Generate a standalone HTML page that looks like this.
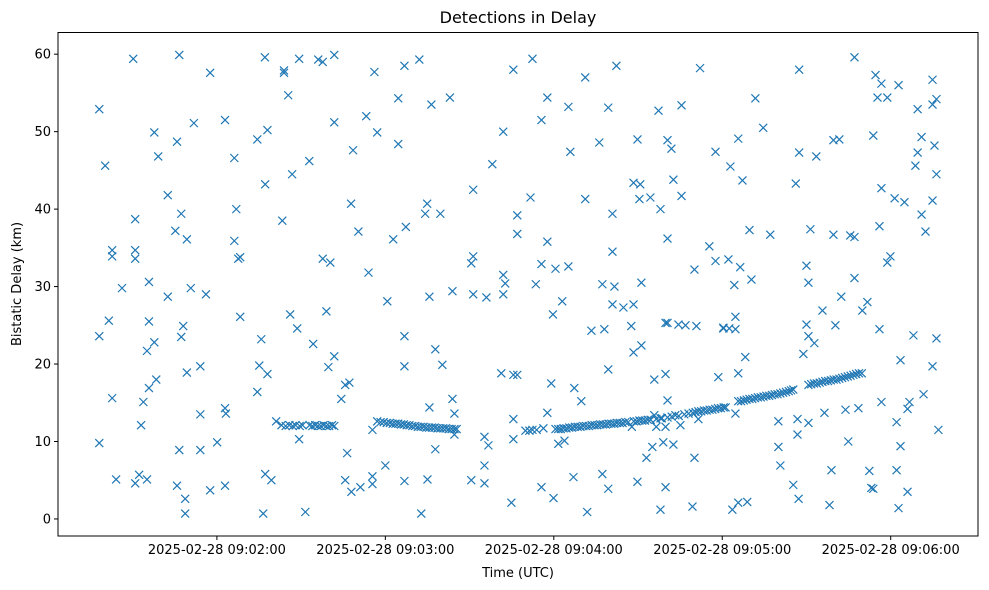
<!DOCTYPE html>
<html><head><meta charset="utf-8"><style>
html,body{margin:0;padding:0;background:#fff;}
svg{display:block;font-family:"DejaVu Sans","Liberation Sans",sans-serif;}
</style></head><body>
<svg id="chart" width="989" height="590" viewBox="0 0 989 590" xmlns="http://www.w3.org/2000/svg">
<rect x="0" y="0" width="989" height="590" fill="#fff"/>
<text x="518" y="23" text-anchor="middle" font-size="16" fill="#000">Detections in Delay</text>
<text x="518" y="577" text-anchor="middle" font-size="13" fill="#000">Time (UTC)</text>
<text x="0" y="0" transform="translate(21,284) rotate(-90)" text-anchor="middle" font-size="13" fill="#000">Bistatic Delay (km)</text>
<g id="marks"></g>
<g id="axes"></g>
</svg>
<script>
// seconds after 09:01:00 UTC
const xTickSeconds = [60, 120, 180, 240, 300];
const xTickLabels = ["2025-02-28 09:02:00","2025-02-28 09:03:00","2025-02-28 09:04:00","2025-02-28 09:05:00","2025-02-28 09:06:00"];
const yTicks = [0, 10, 20, 30, 40, 50, 60];
const scatterTimes = [30.2,46.6,57.6,18.1,51.8,62.9,37.7,45.8,39.1,20.2,42.5,47.3,30.9,45.2,49.3,22.7,22.7,30.9,30.9,26.2,35.8,42.5,50.7,56.1,21.5,18.1,35.8,48.0,47.3,37.7,35.1,49.3,54.1,38.4,35.8,22.7,33.8,54.1,62.9,63.2,33.0,18.1,46.6,54.1,60.1,24.1,32.3,30.9,35.1,45.8,48.7,57.6,62.9,48.7,
77.1,89.3,96.1,97.7,101.8,83.9,83.9,116.1,85.4,101.8,113.2,74.4,78.0,117.1,66.2,108.5,92.9,86.8,77.2,66.9,83.3,107.8,110.4,122.8,66.2,67.6,68.3,97.7,100.4,114.0,120.7,68.3,86.1,99.0,88.6,75.8,94.3,101.8,99.7,75.1,78.0,74.4,105.7,107.2,104.3,81.1,89.3,115.4,106.4,120.0,77.2,79.4,105.7,107.9,111.1,115.4,115.4,76.5,91.5,
126.8,132.1,124.6,136.4,143.0,124.6,165.6,172.4,177.7,175.6,162.0,158.1,151.3,171.7,134.9,134.2,139.6,127.3,167.0,167.0,177.7,151.3,150.6,175.6,180.6,162.0,162.7,162.0,173.6,135.7,143.9,151.3,156.0,179.7,126.8,137.8,126.8,140.3,161.3,165.6,167.0,179.1,135.7,143.9,144.6,165.6,177.7,144.6,137.8,155.3,156.7,155.3,155.3,150.6,126.8,135.0,132.8,164.9,165.6,181.6,175.6,179.9,
191.2,202.3,232.1,185.2,199.4,217.3,225.5,185.9,196.2,209.8,220.5,221.9,237.6,208.4,210.8,222.6,191.2,210.5,214.4,225.5,218.0,200.9,220.5,235.4,200.9,185.2,230.1,237.6,197.3,201.6,211.2,183.0,200.9,204.8,208.4,193.4,198.0,207.6,219.8,220.5,224.4,226.9,230.8,240.4,208.4,211.2,199.4,215.8,219.8,238.6,187.3,189.8,220.5,215.8,218.0,223.3,225.1,207.8,231.5,216.5,219.8,183.8,215.1,219.0,222.6,213.0,230.1,187.0,197.3,199.4,209.8,219.8,191.9,218.0,229.4,
267.4,287.1,251.8,254.6,245.7,242.9,247.2,267.4,273.5,266.2,279.6,281.7,249.7,257.1,271.4,279.6,285.6,287.1,242.2,246.4,244.3,250.4,270.0,270.7,287.1,282.4,275.7,289.9,291.7,244.7,240.4,242.5,244.7,270.0,270.7,272.8,280.3,268.9,248.2,245.7,244.7,260.0,266.8,270.7,276.4,283.9,288.5,296.7,266.8,284.9,260.0,260.7,278.9,292.4,265.3,293.1,293.8,267.2,278.2,243.6,245.7,248.9,294.6,296.7,295.3,298.8,293.8,296.7,296.0,298.8,296.0,
302.8,314.9,309.6,314.9,316.3,311.0,315.6,309.6,308.8,316.3,301.4,304.9,314.9,311.0,312.4,299.9,308.1,316.3,303.5,314.9,311.7,306.7,306.0,302.1,317.0,303.5,302.1,306.0,302.8];
const scatterDelays = [59.4,59.9,57.6,52.9,51.1,51.5,49.9,48.7,46.8,45.6,41.8,39.4,38.7,37.2,36.1,34.7,33.9,34.7,33.6,29.8,30.6,28.7,29.8,29.0,25.6,23.6,25.5,24.9,23.5,22.8,21.7,18.9,19.7,18.0,16.9,15.6,15.1,13.5,14.3,13.6,12.1,9.8,8.9,8.9,9.9,5.1,5.7,4.6,5.1,4.3,2.6,3.7,4.3,0.7,
59.6,59.4,59.3,59.0,59.9,57.9,57.6,57.7,54.7,51.2,52.0,49.0,50.2,49.9,46.6,47.6,46.2,44.5,43.2,40.0,38.5,40.7,37.1,36.1,35.9,33.6,33.8,33.6,33.1,31.8,28.1,26.1,26.4,26.8,24.6,23.2,22.6,21.0,19.6,19.8,18.7,16.4,17.3,17.6,15.5,12.6,10.3,11.5,8.5,6.9,5.8,5.0,5.0,3.5,4.1,5.5,4.5,0.7,0.9,
58.5,59.3,54.3,53.5,54.4,48.4,58.0,59.4,54.4,51.5,50.0,45.8,42.5,41.5,40.7,39.4,39.4,37.7,39.2,36.8,35.8,33.9,33.0,32.9,32.3,31.5,30.4,29.0,30.3,28.7,29.4,29.0,28.6,26.4,23.6,21.9,19.7,19.9,18.8,18.6,18.6,17.5,14.4,15.5,13.6,12.9,13.7,10.9,9.0,10.6,9.5,6.9,4.6,5.0,4.9,5.1,0.7,2.1,10.3,9.7,4.1,2.7,
57.0,58.5,58.2,53.2,53.1,52.7,53.4,47.4,48.6,49.0,48.9,47.8,47.4,43.4,43.2,43.8,41.3,41.3,41.5,41.7,40.0,39.4,36.2,35.2,34.5,32.6,32.2,33.3,30.3,30.0,30.5,28.1,27.7,27.3,27.7,24.3,24.5,24.9,25.3,25.3,25.1,25.0,24.9,24.6,21.5,22.4,19.3,18.0,18.7,18.3,16.9,15.2,15.3,13.4,13.0,13.4,12.1,11.9,12.9,11.9,11.9,10.1,9.3,9.9,9.6,7.9,7.9,5.4,5.8,3.9,4.8,4.1,0.9,1.2,1.6,
58.0,59.6,54.3,50.5,49.1,45.5,43.7,47.3,46.8,43.3,48.9,49.0,37.3,36.7,37.4,36.7,36.6,36.4,33.5,32.5,30.2,30.9,32.7,30.5,31.1,28.7,26.9,26.9,28.0,26.1,24.7,24.6,24.5,25.1,23.6,22.7,25.0,21.3,20.9,18.8,13.6,12.6,12.9,12.4,13.7,14.1,14.3,15.1,10.9,10.0,9.3,6.9,6.3,6.2,4.4,4.0,3.9,2.6,1.8,1.2,2.1,2.2,57.3,56.2,54.4,54.4,49.5,42.7,37.8,33.1,24.5,
56.0,56.7,52.9,53.5,54.2,49.3,48.2,47.3,45.6,44.5,41.4,40.9,41.1,39.3,37.1,33.9,23.7,23.3,20.5,19.7,16.1,15.1,14.2,12.5,11.5,9.4,6.3,3.5,1.4];
// dense track segments
const trackTimes = [83.0,84.5,85.8,87.0,88.0,89.5,90.5,93.0,94.0,95.0,96.0,97.0,98.0,99.0,100.0,101.0,101.8,
117.1,118.3,119.4,120.5,121.6,122.6,123.6,124.6,125.6,126.6,127.6,128.6,129.6,130.6,131.6,132.6,133.6,134.6,135.6,136.6,137.6,138.6,139.6,140.6,141.6,142.6,143.6,144.6,145.4,
169.9,171.3,172.4,173.9,176.3,180.6,181.6,
182.5,183.5,184.5,185.5,186.5,187.5,188.5,189.5,190.5,191.5,192.5,193.5,194.5,195.5,196.5,197.5,198.5,199.5,200.5,201.5,202.5,203.5,204.5,205.5,206.5,208.5,209.5,210.5,211.5,212.5,213.5,214.5,216.5,218.5,220.5,222.0,224.5,226.5,228.0,229.5,230.5,231.5,232.5,233.5,234.5,235.5,236.5,237.5,238.5,239.5,240.5,241.2,
245.7,246.7,247.7,248.7,249.7,250.7,251.7,252.7,253.7,254.7,255.7,256.7,257.7,258.7,259.7,260.7,261.7,262.7,263.7,264.5,265.3,
270.7,271.7,272.7,273.7,274.7,275.7,276.7,277.7,278.7,279.7,280.7,281.7,282.7,283.7,284.7,285.7,286.7,287.7,288.7,289.7];
const trackDelays = [12.1,12.0,12.1,12.0,12.1,12.0,12.1,12.1,12.0,12.1,12.0,12.0,12.1,12.0,12.0,12.1,12.0,
12.6,12.5,12.5,12.4,12.4,12.3,12.3,12.3,12.2,12.2,12.1,12.1,12.0,12.0,11.9,11.9,11.9,11.8,11.8,11.8,11.8,11.7,11.7,11.7,11.7,11.6,11.6,11.6,11.6,
11.4,11.4,11.5,11.5,11.7,11.6,11.6,
11.6,11.7,11.7,11.8,11.8,11.9,11.9,11.9,12.0,12.0,12.0,12.1,12.1,12.1,12.2,12.2,12.2,12.3,12.3,12.3,12.4,12.4,12.4,12.5,12.5,12.6,12.6,12.7,12.7,12.7,12.8,12.8,12.9,13.0,13.1,13.2,13.3,13.5,13.6,13.7,13.8,13.9,13.9,14.0,14.0,14.1,14.1,14.2,14.3,14.3,14.4,14.4,
15.2,15.2,15.3,15.4,15.5,15.5,15.6,15.7,15.7,15.8,15.9,15.9,16.0,16.1,16.1,16.2,16.3,16.4,16.5,16.6,16.7,
17.3,17.4,17.5,17.5,17.6,17.7,17.8,17.8,17.9,18.0,18.0,18.1,18.2,18.3,18.4,18.5,18.6,18.7,18.8,18.8];

const NS = "http://www.w3.org/2000/svg";
const plot = {left: 58, right: 978, top: 32.5, bottom: 536};
const xMin = 3.4, xMax = 331.1, yMin = -2.2, yMax = 62.8;
function xScale(s){ return plot.left + (s - xMin) / (xMax - xMin) * (plot.right - plot.left); }
function yScale(v){ return plot.bottom - (v - yMin) / (yMax - yMin) * (plot.bottom - plot.top); }

const marks = document.getElementById('marks');
function drawMarker(t, d){
  const cx = xScale(t), cy = yScale(d), r = 4;
  const p = document.createElementNS(NS, 'path');
  p.setAttribute('d', `M${cx-r},${cy-r}L${cx+r},${cy+r}M${cx-r},${cy+r}L${cx+r},${cy-r}`);
  p.setAttribute('stroke', '#1f77b4');
  p.setAttribute('stroke-width', '1.2');
  p.setAttribute('fill', 'none');
  
  
  marks.appendChild(p);
}
for (let i = 0; i < scatterTimes.length; i++) drawMarker(scatterTimes[i], scatterDelays[i]);
for (let i = 0; i < trackTimes.length; i++) drawMarker(trackTimes[i], trackDelays[i]);

const axes = document.getElementById('axes');
const frame = document.createElementNS(NS, 'rect');
frame.setAttribute('x', plot.left); frame.setAttribute('y', plot.top);
frame.setAttribute('width', plot.right - plot.left); frame.setAttribute('height', plot.bottom - plot.top);
frame.setAttribute('fill', 'none'); frame.setAttribute('stroke', '#000'); frame.setAttribute('stroke-width', '1');


axes.appendChild(frame);

xTickSeconds.forEach((s, i) => {
  const x = xScale(s);
  const l = document.createElementNS(NS, 'line');
  l.setAttribute('x1', x); l.setAttribute('x2', x); l.setAttribute('y1', plot.bottom); l.setAttribute('y2', plot.bottom + 4);
  l.setAttribute('stroke', '#000');
  
  
  axes.appendChild(l);
  const t = document.createElementNS(NS, 'text');
  t.setAttribute('x', x); t.setAttribute('y', plot.bottom + 18);
  t.setAttribute('text-anchor', 'middle'); t.setAttribute('font-size', '13');
  t.textContent = xTickLabels[i];
  
  
  axes.appendChild(t);
});
yTicks.forEach(v => {
  const y = yScale(v);
  const l = document.createElementNS(NS, 'line');
  l.setAttribute('x1', plot.left - 4); l.setAttribute('x2', plot.left); l.setAttribute('y1', y); l.setAttribute('y2', y);
  l.setAttribute('stroke', '#000');
  
  
  axes.appendChild(l);
  const t = document.createElementNS(NS, 'text');
  t.setAttribute('x', plot.left - 7); t.setAttribute('y', y + 4.5);
  t.setAttribute('text-anchor', 'end'); t.setAttribute('font-size', '13');
  t.textContent = String(v);
  
  
  axes.appendChild(t);
});
</script>
</body></html>
